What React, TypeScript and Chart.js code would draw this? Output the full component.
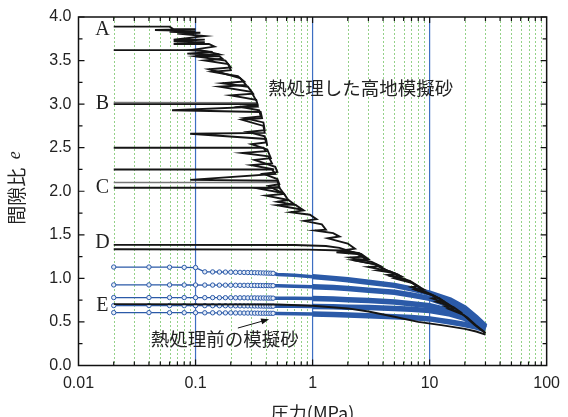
import React, { useEffect, useRef } from 'react';
import { Chart, registerables } from 'chart.js';
Chart.register(...registerables);

// ---- axis / tick data ----
const xTickValues = [0.01, 0.1, 1, 10, 100];
const xTickLabels = ['0.01', '0.1', '1', '10', '100'];
const yTickValues = [0, 0.5, 1, 1.5, 2, 2.5, 3, 3.5, 4];
const yMinorTicks = [0.25, 0.75, 1.25, 1.75, 2.25, 2.75, 3.25, 3.75];
const gridMinor = [0.02, 0.03, 0.04, 0.05, 0.06, 0.07, 0.08, 0.09, 0.2, 0.3, 0.4, 0.5, 0.6, 0.7, 0.8, 0.9, 2, 3, 4, 5, 6, 7, 8, 9, 20, 30, 40, 50, 60, 70, 80, 90];
const gridMajor = [0.1, 1, 10];

// ---- blue series (熱処理前の模擬砂) ----
const loadSteps = [0.02, 0.04, 0.06, 0.08, 0.1, 0.12, 0.14, 0.16, 0.18, 0.2, 0.22, 0.24, 0.26, 0.28, 0.3, 0.32, 0.34, 0.36, 0.38, 0.4, 0.42, 0.44, 0.46];
const blue1Load = [1.13, 1.13, 1.128, 1.126, 1.124, 1.075, 1.074, 1.073, 1.072, 1.071, 1.07, 1.069, 1.068, 1.067, 1.066, 1.065, 1.064, 1.063, 1.062, 1.061, 1.06, 1.059, 1.058];
const blue2Load = [0.925, 0.925, 0.925, 0.924, 0.924, 0.923, 0.923, 0.922, 0.922, 0.921, 0.921, 0.92, 0.92, 0.92, 0.919, 0.919, 0.918, 0.918, 0.917, 0.917, 0.917, 0.916, 0.916];
const blue3Load = [0.78, 0.78, 0.78, 0.78, 0.779, 0.779, 0.779, 0.778, 0.778, 0.778, 0.777, 0.777, 0.777, 0.776, 0.776, 0.776, 0.775, 0.775, 0.775, 0.774, 0.774, 0.774, 0.773];
const blue4Load = [0.688, 0.688, 0.688, 0.687, 0.687, 0.687, 0.686, 0.686, 0.686, 0.685, 0.685, 0.685, 0.684, 0.684, 0.684, 0.683, 0.683, 0.683, 0.682, 0.682, 0.682, 0.681, 0.681];
const blue5Load = [0.607, 0.607, 0.606, 0.606, 0.606, 0.605, 0.605, 0.604, 0.604, 0.604, 0.603, 0.603, 0.602, 0.602, 0.602, 0.601, 0.601, 0.6, 0.6, 0.6, 0.599, 0.599, 0.599];
const tailSteps = [0.5, 0.7, 1, 1.5, 2, 3, 5, 7, 10, 15, 20, 25, 30];
const blue1Tail = [1.045, 1.035, 1.02, 1.0, 0.985, 0.955, 0.92, 0.88, 0.83, 0.75, 0.66, 0.55, 0.45];
const blue2Tail = [0.915, 0.91, 0.905, 0.895, 0.885, 0.865, 0.84, 0.81, 0.77, 0.69, 0.6, 0.52, 0.44];
const blue3Tail = [0.773, 0.771, 0.768, 0.762, 0.755, 0.745, 0.73, 0.71, 0.685, 0.63, 0.57, 0.5, 0.43];
const blue4Tail = [0.681, 0.68, 0.678, 0.675, 0.67, 0.665, 0.655, 0.645, 0.63, 0.59, 0.54, 0.48, 0.42];
const blue5Tail = [0.598, 0.595, 0.59, 0.585, 0.58, 0.57, 0.56, 0.55, 0.535, 0.5, 0.47, 0.44, 0.41];

// ---- black series (熱処理した高地模擬砂) : [pressure, e] ----
const curveA: [number, number][] = [[0.02, 3.89], [0.06, 3.89], [0.065, 3.86], [0.1, 3.86], [0.045, 3.85], [0.1, 3.84], [0.06, 3.83], [0.11, 3.82], [0.07, 3.81], [0.12, 3.78], [0.065, 3.74], [0.12, 3.74], [0.065, 3.72], [0.12, 3.71], [0.065, 3.69], [0.13, 3.69], [0.145, 3.66], [0.09, 3.62], [0.14, 3.6], [0.085, 3.58], [0.14, 3.57], [0.1, 3.55], [0.16, 3.55], [0.17, 3.52], [0.12, 3.5], [0.19, 3.46], [0.2, 3.39], [0.14, 3.37], [0.23, 3.32], [0.26, 3.26], [0.17, 3.24], [0.28, 3.2], [0.31, 3.12], [0.2, 3.1], [0.33, 3.05], [0.34, 2.99], [0.24, 2.97], [0.35, 2.93], [0.36, 2.86], [0.26, 2.84], [0.38, 2.79], [0.39, 2.7], [0.28, 2.68], [0.39, 2.63], [0.4, 2.56], [0.3, 2.54], [0.41, 2.48], [0.44, 2.38], [0.32, 2.36], [0.48, 2.28], [0.5, 2.22], [0.38, 2.2], [0.5, 2.14], [0.52, 2.08], [0.42, 2.06], [0.57, 1.97], [0.62, 1.9], [0.5, 1.88], [0.72, 1.84], [0.84, 1.78], [0.65, 1.76], [0.95, 1.73], [1.08, 1.68], [0.85, 1.66], [1.2, 1.62], [1.3, 1.56], [1.05, 1.55], [1.5, 1.52], [1.7, 1.48], [1.35, 1.46], [2.0, 1.4], [2.3, 1.34], [1.8, 1.32], [2.6, 1.28], [3.0, 1.22], [2.4, 1.2], [3.5, 1.16], [4.2, 1.1], [3.6, 1.09], [5, 1.06], [5.8, 1.02], [5.0, 1.0], [7, 0.95], [8.5, 0.88], [7.5, 0.87], [10.4, 0.81], [11.7, 0.78], [10.5, 0.77], [14, 0.71], [16, 0.66], [14.5, 0.65], [19.5, 0.58], [24, 0.47], [30, 0.37]];
const curve362: [number, number][] = [[0.02, 3.62], [0.11, 3.62], [0.13, 3.6], [0.16, 3.57], [0.1, 3.55], [0.18, 3.5], [0.2, 3.42], [0.13, 3.4], [0.24, 3.3], [0.27, 3.22], [0.16, 3.2], [0.3, 3.14], [0.33, 3.04]];
const curveB: [number, number][] = [[0.02, 3.0], [0.33, 3.0], [0.34, 2.97], [0.063, 2.93], [0.36, 2.91], [0.37, 2.84], [0.25, 2.82], [0.38, 2.75], [0.39, 2.67], [0.09, 2.66], [0.4, 2.6], [0.41, 2.52]];
const curveB2: [number, number][] = [[0.02, 3.02], [0.33, 3.015]];
const curve250: [number, number][] = [[0.02, 2.5], [0.38, 2.5], [0.4, 2.46], [0.25, 2.44], [0.42, 2.4], [0.45, 2.32], [0.3, 2.3], [0.47, 2.25]];
const curve225: [number, number][] = [[0.02, 2.25], [0.45, 2.25], [0.48, 2.2], [0.09, 2.13], [0.5, 2.12], [0.52, 2.05], [0.35, 2.03], [0.56, 1.98]];
const curve210: [number, number][] = [[0.02, 2.1], [0.5, 2.1]];
const curveC: [number, number][] = [[0.02, 2.04], [0.52, 2.04], [0.57, 1.97], [0.4, 1.95], [0.62, 1.9], [0.7, 1.85], [0.5, 1.84], [0.8, 1.79]];
const curveD1: [number, number][] = [[0.02, 1.385], [0.7, 1.383], [1.3, 1.372], [1.7, 1.35], [2.1, 1.31], [1.6, 1.3], [2.4, 1.28], [2.9, 1.22], [2.2, 1.21], [3.4, 1.16], [4.0, 1.11], [5.2, 1.05], [4.4, 1.04], [6.2, 0.99], [7.5, 0.93], [9, 0.87], [8, 0.86], [10, 0.82], [12.5, 0.76], [15, 0.69], [13.5, 0.68], [18, 0.61], [21, 0.55], [25, 0.46], [30, 0.375]];
const curveD2: [number, number][] = [[0.02, 1.335], [0.9, 1.33], [1.8, 1.32], [2.5, 1.29], [2.7, 1.25], [2.1, 1.24], [3.2, 1.19], [3.8, 1.14], [3.0, 1.13], [4.6, 1.08], [5.5, 1.03], [4.8, 1.02], [6.8, 0.97], [8, 0.91], [7, 0.9], [9.5, 0.84], [11, 0.8], [13, 0.74], [11.5, 0.73], [16, 0.67], [19, 0.6]];
const curveE: [number, number][] = [[0.02, 0.705], [0.5, 0.7], [1, 0.685], [2, 0.655], [3, 0.62], [5, 0.56], [8, 0.5], [13, 0.46], [20, 0.42], [25, 0.39], [30, 0.355]];

// ---- annotation text ----
const curveLetters = ['A', 'B', 'C', 'D', 'E'];
const letterE = [3.85, 3.0, 2.04, 1.41, 0.69];
const letterP = 0.016;
const labelTreated = '熱処理した高地模擬砂';
const labelUntreated = '熱処理前の模擬砂';
const xTitle = '圧力(MPa)';
const yTitle = '間隙比';

const BLUE = '#2b5aa8';
const BLACK = '#151515';
const TEXT = '#222';
const JP = '"Noto Sans CJK JP", "Noto Sans", sans-serif';
const SANS = '"Liberation Sans", Arial, sans-serif';

const pairs = (a: [number, number][]) => a.map(([x, y]) => ({ x, y }));
const blueData = (load: number[], tail: number[]) =>
  loadSteps.map((x, i) => ({ x, y: load[i] })).concat(tailSteps.map((x, i) => ({ x, y: tail[i] })));

const decorPlugin = {
  id: 'decor',
  beforeDatasetsDraw(chart: any) {
    const { ctx, chartArea: a, scales } = chart;
    const x = scales.x;
    ctx.save();
    ctx.beginPath();
    ctx.rect(a.left, a.top, a.right - a.left, a.bottom - a.top);
    ctx.clip();
    ctx.strokeStyle = '#93d188';
    ctx.lineWidth = 1;
    ctx.setLineDash([2, 2]);
    for (const v of gridMinor) {
      const px = Math.round(x.getPixelForValue(v)) + 0.5;
      ctx.beginPath();
      ctx.moveTo(px, a.top);
      ctx.lineTo(px, a.bottom);
      ctx.stroke();
    }
    ctx.setLineDash([]);
    ctx.strokeStyle = '#3d6ec2';
    ctx.lineWidth = 1.2;
    for (const v of gridMajor) {
      const px = x.getPixelForValue(v);
      ctx.beginPath();
      ctx.moveTo(px, a.top);
      ctx.lineTo(px, a.bottom);
      ctx.stroke();
    }
    ctx.restore();
  },
  afterDatasetsDraw(chart: any) {
    const { ctx, chartArea: a, scales } = chart;
    const x = scales.x;
    const y = scales.y;
    ctx.save();
    // frame
    ctx.strokeStyle = '#111';
    ctx.lineWidth = 1.5;
    ctx.strokeRect(a.left, a.top, a.right - a.left, a.bottom - a.top);
    // inward ticks
    ctx.lineWidth = 1.2;
    ctx.beginPath();
    for (const v of gridMinor) {
      const px = x.getPixelForValue(v);
      ctx.moveTo(px, a.bottom); ctx.lineTo(px, a.bottom - 4);
      ctx.moveTo(px, a.top); ctx.lineTo(px, a.top + 4);
    }
    for (const v of gridMajor) {
      const px = x.getPixelForValue(v);
      ctx.moveTo(px, a.bottom); ctx.lineTo(px, a.bottom - 6);
      ctx.moveTo(px, a.top); ctx.lineTo(px, a.top + 6);
    }
    for (const v of yTickValues) {
      const py = y.getPixelForValue(v);
      ctx.moveTo(a.left, py); ctx.lineTo(a.left + 6, py);
      ctx.moveTo(a.right, py); ctx.lineTo(a.right - 6, py);
    }
    for (const v of yMinorTicks) {
      const py = y.getPixelForValue(v);
      ctx.moveTo(a.left, py); ctx.lineTo(a.left + 4, py);
      ctx.moveTo(a.right, py); ctx.lineTo(a.right - 4, py);
    }
    ctx.stroke();

    // curve letters
    ctx.fillStyle = TEXT;
    ctx.font = '20px "Liberation Serif", "DejaVu Serif", serif';
    ctx.textAlign = 'center';
    ctx.textBaseline = 'middle';
    curveLetters.forEach((t, i) => {
      ctx.fillText(t, x.getPixelForValue(letterP), y.getPixelForValue(letterE[i]));
    });

    // annotations
    ctx.font = '18.5px ' + JP;
    ctx.textAlign = 'left';
    ctx.fillText(labelTreated, x.getPixelForValue(0.419), y.getPixelForValue(3.186));
    ctx.fillText(labelUntreated, x.getPixelForValue(0.0414), y.getPixelForValue(0.305));

    // arrow
    const x0 = x.getPixelForValue(0.23), y0 = y.getPixelForValue(0.43);
    const x1 = x.getPixelForValue(0.425), y1 = y.getPixelForValue(0.531);
    const ang = Math.atan2(y1 - y0, x1 - x0);
    ctx.strokeStyle = '#111';
    ctx.lineWidth = 1;
    ctx.beginPath();
    ctx.moveTo(x0, y0);
    ctx.lineTo(x1 - 6 * Math.cos(ang), y1 - 6 * Math.sin(ang));
    ctx.stroke();
    ctx.fillStyle = '#111';
    ctx.beginPath();
    ctx.moveTo(x1, y1);
    ctx.lineTo(x1 - 8 * Math.cos(ang) + 3 * Math.sin(ang), y1 - 8 * Math.sin(ang) - 3 * Math.cos(ang));
    ctx.lineTo(x1 - 8 * Math.cos(ang) - 3 * Math.sin(ang), y1 - 8 * Math.sin(ang) + 3 * Math.cos(ang));
    ctx.closePath();
    ctx.fill();

    // axis titles
    ctx.fillStyle = TEXT;
    ctx.font = '18px ' + JP;
    ctx.textAlign = 'center';
    ctx.textBaseline = 'middle';
    ctx.fillText(xTitle, (a.left + a.right) / 2, 413);

    ctx.translate(17, 188);
    ctx.rotate(-Math.PI / 2);
    ctx.font = '19px ' + JP;
    const w1 = ctx.measureText(yTitle + '  ').width;
    ctx.font = 'italic 18px "Liberation Serif", serif';
    const w2 = ctx.measureText('e').width;
    const start = -(w1 + w2) / 2;
    ctx.textAlign = 'left';
    ctx.font = '19px ' + JP;
    ctx.fillText(yTitle, start, 0);
    ctx.font = 'italic 18px "Liberation Serif", serif';
    ctx.fillText('e', start + w1, -2);
    ctx.restore();
  },
};

export default function App() {
  const ref = useRef<HTMLCanvasElement>(null);
  useEffect(() => {
    const blackSets = [curveA, curve362, curveB, curve250, curve225, curveC, curveD1, curveD2, curveE].map((c) => ({
      data: pairs(c),
      showLine: true,
      borderColor: BLACK,
      borderWidth: 1.9,
      pointRadius: 0,
      tension: 0,
    }));
    const greySets = [curveB2, curve210].map((c) => ({
      data: pairs(c),
      showLine: true,
      borderColor: '#777',
      borderWidth: 1.5,
      pointRadius: 0,
    }));
    const blueSets = [
      [blue1Load, blue1Tail],
      [blue2Load, blue2Tail],
      [blue3Load, blue3Tail],
      [blue4Load, blue4Tail],
      [blue5Load, blue5Tail],
    ].map(([l, t]) => ({
      data: blueData(l, t),
      showLine: true,
      borderColor: BLUE,
      borderWidth: 1.3,
      pointRadius: (c: any) => (c.raw && c.raw.x <= 0.46 ? 2.2 : 0),
      pointBorderWidth: 1,
      pointBorderColor: BLUE,
      pointBackgroundColor: '#e6edf8',
      segment: {
        borderWidth: (c: any) => {
          const p = c.p0.parsed.x;
          return p < 0.3 ? 1.3 : p < 1 ? 3.5 : 5.5;
        },
      },
    }));
    const chart = new Chart(ref.current!, {
      type: 'scatter',
      data: { datasets: [...blackSets, ...greySets, ...blueSets] as any },
      options: {
        responsive: false,
        animation: false,
        devicePixelRatio: 1,
        layout: { padding: { top: 17, right: 15, left: 0, bottom: 0 } },
        plugins: { legend: { display: false }, tooltip: { enabled: false } },
        scales: {
          x: {
            type: 'logarithmic',
            min: 0.01,
            max: 100,
            afterBuildTicks: (s: any) => {
              s.ticks = xTickValues.map((v) => ({ value: v, major: true }));
            },
            afterFit: (s: any) => {
              s.height = 51.5;
            },
            ticks: {
              autoSkip: false,
              maxRotation: 0,
              padding: 8,
              color: TEXT,
              font: { family: SANS, size: 16 },
              callback: (v: any) => {
                const i = xTickValues.indexOf(Number(v));
                return i >= 0 ? xTickLabels[i] : '';
              },
            },
            grid: { display: false, drawTicks: false },
            border: { display: false },
          },
          y: {
            min: 0,
            max: 4,
            afterBuildTicks: (s: any) => {
              s.ticks = yTickValues.map((v) => ({ value: v }));
            },
            afterFit: (s: any) => {
              s.width = 78.5;
            },
            ticks: {
              padding: 7,
              color: TEXT,
              font: { family: SANS, size: 16 },
              callback: (v: any) => Number(v).toFixed(1),
            },
            grid: { display: false, drawTicks: false },
            border: { display: false },
          },
        },
      },
      plugins: [decorPlugin],
    });
    return () => chart.destroy();
  }, []);
  return (
    <div style={{ position: 'fixed', left: 0, top: 0, width: 568, height: 417, background: '#fff' }}>
      <canvas ref={ref} width={568} height={417} style={{ display: 'block', width: 568, height: 417 }} />
    </div>
  );
}
